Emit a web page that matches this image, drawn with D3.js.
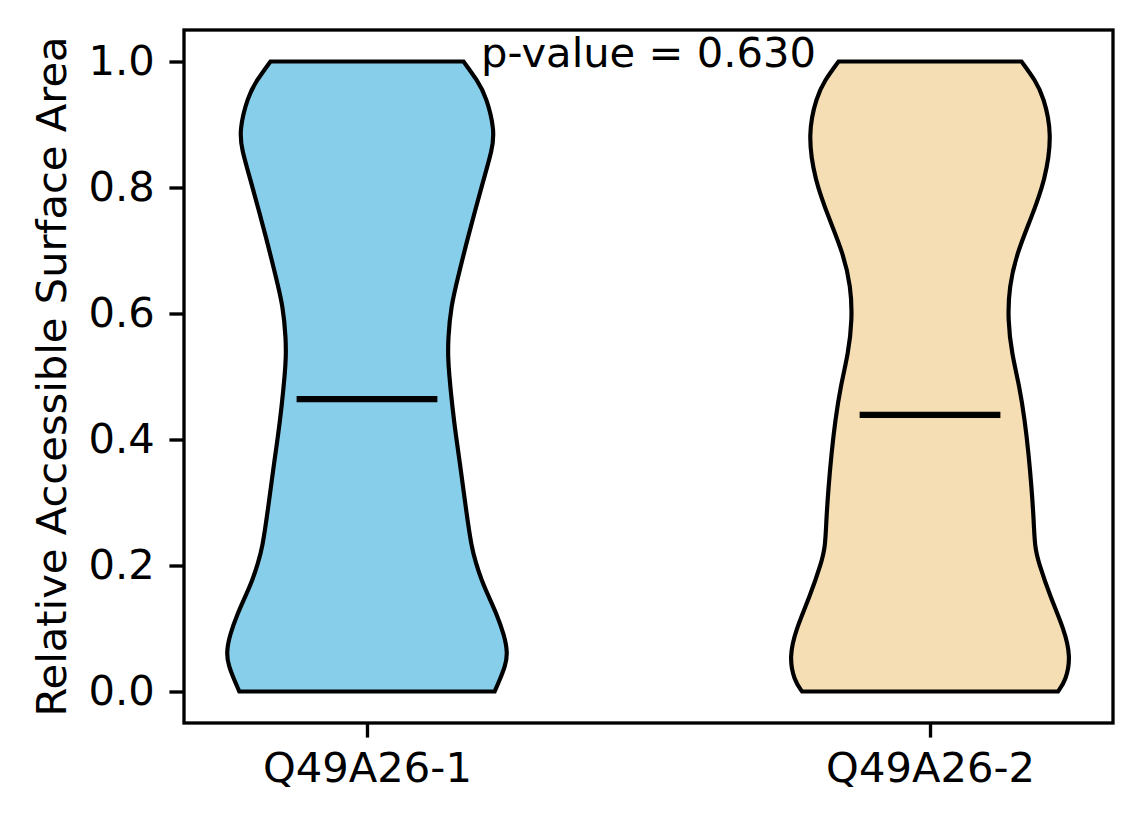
<!DOCTYPE html>
<html>
<head>
<meta charset="utf-8">
<script src="https://cdn.jsdelivr.net/npm/d3@7/dist/d3.min.js"></script>
<style>
  body { margin: 0; background: #fff; }
  text { font-family: "DejaVu Sans", sans-serif; fill: #000; }
</style>
</head>
<body>
<div id="chart"></div>
<script>
// Define svg size
var svgWidth = 1144;
var svgHeight = 824;

// Chart data
var groups = ["Q49A26-1", "Q49A26-2"];
var groupColors = ["#87ceeb", "#f5deb3"];
var groupMeans = [0.464, 0.439];
var pValue = 0.630;
var yTicks = [0.0, 0.2, 0.4, 0.6, 0.8, 1.0];

// violin outline: RSA level and relative half-width (1 = widest point)
var rsaLevels1 = [0.000, 0.018, 0.040, 0.061, 0.090, 0.124, 0.150, 0.177, 0.204, 0.230, 0.283,
  0.373, 0.399, 0.452, 0.505, 0.531, 0.558, 0.611, 0.664, 0.717, 0.812, 0.860, 0.891, 0.944, 0.970, 1.000];
var density1 = [0.907, 0.942, 0.982, 1.000, 0.975, 0.919, 0.866, 0.813, 0.774, 0.742, 0.707,
  0.654, 0.636, 0.606, 0.583, 0.576, 0.576, 0.595, 0.654, 0.712, 0.827, 0.890, 0.907, 0.848, 0.784, 0.686];

var rsaLevels2 = [0.000, 0.018, 0.055, 0.098, 0.150, 0.204, 0.230, 0.272, 0.325, 0.378, 0.431,
  0.484, 0.537, 0.590, 0.643, 0.696, 0.748, 0.812, 0.886, 0.944, 0.970, 1.000];
var density2 = [0.909, 0.966, 1.000, 0.954, 0.855, 0.772, 0.744, 0.737, 0.721, 0.700, 0.673,
  0.636, 0.580, 0.553, 0.562, 0.618, 0.712, 0.820, 0.869, 0.806, 0.749, 0.650];

var profiles = [
  d3.zip(rsaLevels1, density1),
  d3.zip(rsaLevels2, density2)
];

// Define margin parameter
var margin = { top: 30, right: 31, bottom: 101, left: 184 };
var width = svgWidth - margin.left - margin.right;
var height = svgHeight - margin.top - margin.bottom;

var pt = 300 / 72; // figure was saved at 300 dpi
var fontSize = 10 * pt;

var svg = d3.select("#chart")
  .append("svg")
  .attr("width", svgWidth)
  .attr("height", svgHeight);

var chartGroup = svg.append("g")
  .attr("transform", `translate(${margin.left}, ${margin.top})`);

// scales (positions 1 and 2, violin width 0.5)
var xScale = d3.scaleLinear()
  .domain([0.675, 2.325])
  .range([0, width]);

var yScale = d3.scaleLinear()
  .domain([-0.05, 1.05])
  .range([height, 0]);

// violins
profiles.forEach(function(profile, i) {
  var pos = i + 1;
  var area = d3.area()
    .y(d => yScale(d[0]))
    .x0(d => xScale(pos - d[1] * 0.25))
    .x1(d => xScale(pos + d[1] * 0.25))
    .curve(d3.curveBasis);

  chartGroup.append("path")
    .datum(profile)
    .attr("d", area)
    .attr("fill", groupColors[i])
    .attr("stroke", "#000")
    .attr("stroke-width", 1 * pt)
    .attr("stroke-linejoin", "miter");

  // mean line
  chartGroup.append("line")
    .attr("x1", xScale(pos - 0.125))
    .attr("x2", xScale(pos + 0.125))
    .attr("y1", yScale(groupMeans[i]))
    .attr("y2", yScale(groupMeans[i]))
    .attr("stroke", "#000")
    .attr("stroke-width", 1.5 * pt);
});

// axes
var leftAxis = d3.axisLeft(yScale)
  .tickValues(yTicks)
  .tickFormat(d3.format(".1f"))
  .tickSize(3.5 * pt)
  .tickPadding(3.5 * pt);

var bottomAxis = d3.axisBottom(xScale)
  .tickValues([1, 2])
  .tickFormat((d, i) => groups[i])
  .tickSize(3.5 * pt)
  .tickPadding(3.5 * pt);

var yAxis = chartGroup.append("g").call(leftAxis);
var xAxis = chartGroup.append("g")
  .attr("transform", `translate(0, ${height})`)
  .call(bottomAxis);

[yAxis, xAxis].forEach(function(ax) {
  ax.select(".domain").remove();
  ax.selectAll(".tick line")
    .attr("stroke", "#000")
    .attr("stroke-width", 0.8 * pt);
  ax.selectAll(".tick text")
    .attr("font-size", fontSize)
    .style("font-family", "'DejaVu Sans', sans-serif")
    .attr("fill", "#000");
});

// frame
chartGroup.append("rect")
  .attr("x", 0)
  .attr("y", 0)
  .attr("width", width)
  .attr("height", height)
  .attr("fill", "none")
  .attr("stroke", "#000")
  .attr("stroke-width", 0.8 * pt);

// y label
chartGroup.append("text")
  .attr("transform", "rotate(-90)")
  .attr("x", -height / 2)
  .attr("y", -118)
  .attr("text-anchor", "middle")
  .attr("font-size", fontSize)
  .text("Relative Accessible Surface Area");

// p-value annotation
chartGroup.append("text")
  .attr("x", xScale(1.5))
  .attr("y", yScale(1.0) + 5.5)
  .attr("text-anchor", "middle")
  .attr("font-size", fontSize)
  .text("p-value = " + pValue.toFixed(3));
</script>
</body>
</html>
